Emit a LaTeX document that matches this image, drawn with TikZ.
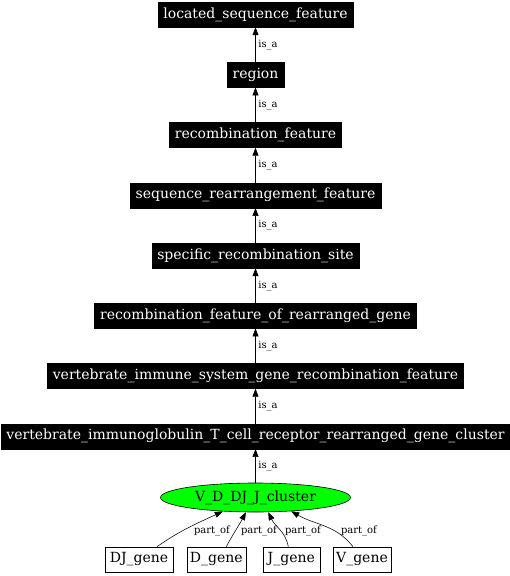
\documentclass[tikz,border=0pt]{standalone}
\usepackage{fontspec}
\setmainfont{DejaVu Serif}
\usetikzlibrary{arrows.meta,shapes.geometric}
\definecolor{gvgreen}{RGB}{0,255,0}
\begin{document}
\begin{tikzpicture}[x=1pt,y=-1pt,
  blk/.style={fill=black,draw=black,text=white,font=\fontsize{14}{16}\selectfont,
    inner xsep=5.5pt,inner ysep=0pt,minimum height=25pt},
  wbox/.style={fill=white,draw=black,text=black,font=\fontsize{14}{16}\selectfont,
    inner xsep=3pt,inner ysep=0pt,minimum height=25pt,line width=0.6pt},
  ell/.style={ellipse,fill=gvgreen,draw=black,font=\fontsize{14}{16}\selectfont,
    minimum width=190pt,minimum height=29pt,inner sep=0pt,line width=0.6pt},
  lbl/.style={font=\fontsize{10}{12}\selectfont,inner sep=0pt},
  isa/.style={draw=black,line width=0.6pt,-{Triangle[length=8pt,width=6pt]}},
  edge/.style={draw=black,line width=0.55pt,-{Triangle[length=8pt,width=6pt]}}]
\useasboundingbox (0,0) rectangle (510,576);
\node[blk] (lsf) at (255.5,14.5) {located\_sequence\_feature};
\node[blk] (reg) at (255.5,74.75) {region};
\node[blk] (recf) at (255.5,135) {recombination\_feature};
\node[blk] (srf) at (255.5,195.25) {sequence\_rearrangement\_feature};
\node[blk] (srs) at (255.5,255.5) {specific\_recombination\_site};
\node[blk] (rfrg) at (255.5,315.75) {recombination\_feature\_of\_rearranged\_gene};
\node[blk] (visg) at (255.5,376) {vertebrate\_immune\_system\_gene\_recombination\_feature};
\node[blk] (vitc) at (255.5,436.25) {vertebrate\_immunoglobulin\_T\_cell\_receptor\_rearranged\_gene\_cluster};
\node[ell] (cl) at (255.5,497.5) {V\_D\_DJ\_J\_cluster};
\node[wbox,minimum width=68pt] (dj) at (139,559.5) {DJ\_gene};
\node[wbox,minimum width=59pt] (d) at (216.3,559.5) {D\_gene};
\node[wbox,minimum width=57pt] (j) at (291.3,559.5) {J\_gene};
\node[wbox,minimum width=57pt] (v) at (362,559.5) {V\_gene};
\foreach \a/\b in {reg/lsf,recf/reg,srf/recf,srs/srf,rfrg/srs,visg/rfrg,vitc/visg,cl/vitc}{
  \draw[isa] (\a) -- node[lbl,anchor=west,xshift=2.5pt]{is\_a} (\b);
}
\draw[edge] ([xshift=18pt]dj.north) to[out=35,in=205] (cl.203.6);
\draw[edge] ([xshift=10pt]d.north) to[out=62,in=242] (cl.237.5);
\draw[edge] ([xshift=-3pt]j.north) to[out=100,in=295] (cl.311.3);
\draw[edge] ([xshift=-9pt]v.north) to[out=128,in=330] (cl.339.8);
\node[lbl] (l1) at (212,531) {part\_of};
\node[lbl] (l2) at (259,531) {part\_of};
\node[lbl] (l3) at (303,531) {part\_of};
\node[lbl] (l4) at (359,531) {part\_of};
\end{tikzpicture}
\end{document}
